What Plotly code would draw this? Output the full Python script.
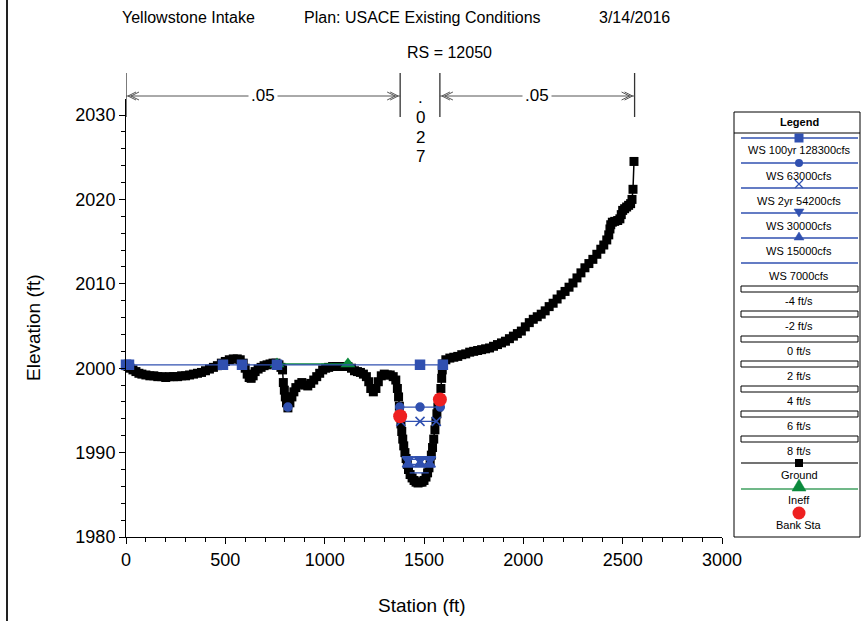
import plotly.graph_objects as go

# ---------------- data ----------------
title_parts = ["Yellowstone Intake", "Plan: USACE Existing Conditions", "3/14/2016"]
subtitle = "RS = 12050"
x_title = "Station (ft)"
y_title = "Elevation (ft)"

ground_sta = [0, 10, 20, 35, 50, 65, 80, 100, 120, 140, 160, 180, 200, 220, 240, 260, 280, 300,
              320, 340, 360, 380, 400, 420, 440, 460, 480, 500, 520, 540, 560, 575, 590, 600,
              610, 620, 630, 640, 650, 665, 680, 695, 710, 725, 740, 755, 770, 780,
              788, 792, 797, 802, 808, 815,
              825, 835, 845, 855, 870, 885, 900, 915, 930, 945, 960, 975, 990, 1005, 1020,
              1040, 1060, 1080, 1100, 1117, 1135, 1150, 1165, 1180, 1195, 1210, 1222, 1232,
              1245, 1258, 1270, 1285, 1300, 1315, 1330, 1345, 1358, 1366, 1372, 1376, 1380,
              1384, 1388, 1393, 1398, 1404, 1410, 1416, 1422, 1430, 1440, 1450, 1460, 1470,
              1480, 1490, 1500, 1510, 1518, 1525, 1531, 1537, 1543, 1549, 1555, 1560, 1565,
              1570, 1575, 1580, 1585, 1589, 1592, 1595,
              1610, 1630, 1650, 1670, 1690, 1710, 1730, 1750, 1770, 1790, 1810, 1830, 1850,
              1870, 1890, 1910, 1930, 1950, 1970, 1990, 2010, 2030, 2050, 2070, 2090, 2110,
              2130, 2150, 2170, 2190, 2210, 2230, 2250, 2270, 2290, 2310, 2330, 2350, 2370,
              2390, 2405, 2420, 2430, 2436, 2440, 2448, 2460, 2475, 2486, 2493, 2500, 2510,
              2520, 2530, 2540, 2547, 2552, 2557]
ground_elev = [2000.3, 2000.2, 2000.0, 1999.8, 1999.6, 1999.4, 1999.3, 1999.2, 1999.1, 1999.1,
               1999.0, 1999.0, 1998.9, 1999.0, 1999.0, 1999.0, 1999.1, 1999.1, 1999.2, 1999.3,
               1999.4, 1999.5, 1999.7, 1999.9, 2000.1, 2000.3, 2000.6, 2000.8, 2001.0, 2001.1,
               2001.1, 2001.0, 2000.6, 2000.0, 1999.3, 1998.9, 1998.8, 1999.1, 1999.6, 1999.9,
               2000.1, 2000.3, 2000.4, 2000.5, 2000.6, 2000.6, 2000.4, 2000.1,
               1999.8, 1998.3, 1997.4, 1996.6, 1995.9, 1995.3,
               1995.9, 1996.6, 1997.2, 1997.7, 1998.1, 1998.3, 1998.0, 1997.9, 1998.2, 1998.6,
               1999.0, 1999.4, 1999.8, 2000.0, 2000.1, 2000.2, 2000.2, 2000.2, 2000.2, 2000.2,
               2000.0, 1999.7, 1999.6, 1999.5, 1999.3, 1999.0, 1998.4, 1997.6, 1997.2, 1997.6,
               1998.4, 1999.1, 1999.3, 1999.2, 1999.2, 1999.0, 1998.6, 1997.6, 1996.6, 1995.5,
               1994.4, 1993.4, 1992.5, 1991.6, 1990.8, 1990.0, 1989.3, 1988.6, 1988.0, 1987.4,
               1987.0, 1986.7, 1986.5, 1986.4, 1986.5, 1986.5, 1986.7, 1987.1, 1987.6, 1988.2,
               1988.9, 1989.7, 1990.6, 1991.6, 1992.7, 1993.7, 1994.6, 1995.4, 1996.0, 1996.4,
               1997.6, 1998.8, 1999.8, 2000.5,
               2001.0, 2001.2, 2001.3, 2001.4, 2001.6, 2001.7, 2001.9, 2002.0, 2002.1, 2002.2,
               2002.3, 2002.4, 2002.6, 2002.8, 2003.0, 2003.2, 2003.5, 2003.8, 2004.1, 2004.4,
               2004.9, 2005.4, 2005.8, 2006.1, 2006.4, 2006.8, 2007.3, 2007.7, 2008.2, 2008.7,
               2009.1, 2009.6, 2010.1, 2010.7, 2011.3, 2011.9, 2012.4, 2012.9, 2013.5, 2014.1,
               2014.6, 2015.2, 2015.8, 2016.5, 2017.0, 2017.3, 2017.4, 2017.5, 2017.7, 2018.2,
               2018.7, 2018.9, 2019.1, 2019.3, 2019.5, 2020.0, 2021.2, 2024.5]

ws_names = ["WS 100yr 128300cfs", "WS 63000cfs", "WS 2yr 54200cfs",
            "WS 30000cfs", "WS 15000cfs", "WS 7000cfs"]
ws100_sta = [0, 15, 488, 584, 760, 1480, 1595]
ws100_elev = [2000.4, 2000.4, 2000.4, 2000.4, 2000.4, 2000.4, 2000.4]
ws63_sta = [1378, 1480, 1582]
ws63_elev = [1995.4, 1995.4, 1995.4]
ws63_pocket_sta = [815]
ws63_pocket_elev = [1995.4]
ws2yr_sta = [1383, 1480, 1562]
ws2yr_elev = [1993.7, 1993.7, 1993.7]
ws30_sta = [1419, 1480, 1530]
ws30_elev = [1989.2, 1989.2, 1989.2]
ws15_sta = [1420, 1480, 1528]
ws15_elev = [1988.6, 1988.6, 1988.6]
ws7_sta = [1428, 1524]
ws7_elev = [1987.6, 1987.6]

ineff_sta = [760, 1117]
ineff_elev = [2000.5, 2000.5]
bank_sta = [1380, 1580]
bank_elev = [1994.3, 1996.3]

n_break_sta = [0, 1380, 1580, 2560]
n_values = [".05", ".027", ".05"]

vel_labels = ["-4 ft/s", "-2 ft/s", "0 ft/s", "2 ft/s", "4 ft/s", "6 ft/s", "8 ft/s"]
x_ticks = [0, 500, 1000, 1500, 2000, 2500, 3000]
y_ticks = [1980, 1990, 2000, 2010, 2020, 2030]

# ---------------- styling / geometry ----------------
FONT = "Liberation Sans, Arial, sans-serif"
BLUE = "#3050B0"
GREEN = "#0A8A3C"
RED = "#EE2020"
W, H = 862, 621
L, R, T, B = 126, 140, 99, 84
PW = W - L - R
PH = H - T - B


def fx(px):
    return (px - L) / PW


def fy(py):
    return (H - B - py) / PH


def s2px(s):
    return L + s * PW / 3000.0


def ann(x, y, text, size, xref="paper", yref="paper", **kw):
    d = dict(x=x, y=y, xref=xref, yref=yref, text=text, showarrow=False,
             xanchor="center", yanchor="middle",
             font=dict(family=FONT, size=size, color="black"))
    d.update(kw)
    return d


fig = go.Figure()

fig.add_trace(go.Scatter(x=ground_sta, y=ground_elev, mode="lines+markers",
                         line=dict(color="black", width=1.5),
                         marker=dict(symbol="square", size=9, color="black"),
                         cliponaxis=False, showlegend=False))
fig.add_trace(go.Scatter(x=ineff_sta, y=ineff_elev, mode="lines+markers",
                         line=dict(color=GREEN, width=1.5),
                         marker=dict(symbol="triangle-up", size=13, color=GREEN),
                         showlegend=False))
ws_sets = [(ws100_sta, ws100_elev, "square", 9),
           (ws63_sta, ws63_elev, "circle", 8),
           (ws63_pocket_sta, ws63_pocket_elev, "circle", 8),
           (ws2yr_sta, ws2yr_elev, "x-thin-open", 9),
           (ws30_sta, ws30_elev, "triangle-down", 10),
           (ws15_sta, ws15_elev, "triangle-up", 10)]
for xs, ys, sym, sz in ws_sets:
    fig.add_trace(go.Scatter(x=xs, y=ys, mode="lines+markers",
                             line=dict(color=BLUE, width=1.3),
                             marker=dict(symbol=sym, size=sz, color=BLUE,
                                         line=dict(color=BLUE, width=1.5)),
                             cliponaxis=False, showlegend=False))
fig.add_trace(go.Scatter(x=ws7_sta, y=ws7_elev, mode="lines",
                         line=dict(color=BLUE, width=1.3), showlegend=False))
fig.add_trace(go.Scatter(x=bank_sta, y=bank_elev, mode="markers",
                         marker=dict(symbol="circle", size=14, color=RED),
                         showlegend=False))

shapes = []
annotations = []

# left frame line
shapes.append(dict(type="line", xref="paper", yref="paper", x0=fx(7), x1=fx(7),
                   y0=fy(0), y1=fy(H), line=dict(color="#222222", width=2)))

# Manning's n brackets
GRAY = "#555555"
for s in n_break_sta:
    shapes.append(dict(type="line", xref="x", yref="paper", x0=s, x1=s,
                       y0=fy(73), y1=fy(117), line=dict(color="#333333", width=1.3)))

for i, val in enumerate(n_values):
    s0, s1 = n_break_sta[i], n_break_sta[i + 1]
    mid = (s0 + s1) / 2
    if len(val) <= 3:
        shapes.append(dict(type="line", xref="x", yref="paper", x0=s0, x1=s1,
                           y0=fy(96), y1=fy(96), line=dict(color=GRAY, width=1)))
        p0, p1 = s2px(s0), s2px(s1)
        for off in (2, 5):
            shapes.append(dict(type="path", xref="paper", yref="paper",
                               path=f"M {fx(p0 + off + 8)} {fy(92)} L {fx(p0 + off)} {fy(96)} L {fx(p0 + off + 8)} {fy(100)}",
                               line=dict(color=GRAY, width=1)))
            shapes.append(dict(type="path", xref="paper", yref="paper",
                               path=f"M {fx(p1 - off - 8)} {fy(92)} L {fx(p1 - off)} {fy(96)} L {fx(p1 - off - 8)} {fy(100)}",
                               line=dict(color=GRAY, width=1)))
        annotations.append(ann(mid, fy(96), val, 17, xref="x", bgcolor="white", borderpad=2))
    else:
        for j, ch in enumerate(val):
            annotations.append(ann(mid, fy(98 + j * 19.5), ch, 17, xref="x"))

# titles
title_left = [120, 302, 597]
for txt, lx in zip(title_parts, title_left):
    annotations.append(ann(fx(lx), fy(18), txt, 16, xanchor="left"))
annotations.append(ann(fx(449), fy(53), subtitle, 16))
annotations.append(ann(fx(422), fy(605), x_title, 19))
annotations.append(ann(fx(33), fy(328), y_title, 19, textangle=-90))

# ---------------- legend (drawn) ----------------
LX0, LX1 = 734, 860
LCX = 799
shapes.append(dict(type="rect", xref="paper", yref="paper", x0=fx(LX0), x1=fx(LX1),
                   y0=fy(537), y1=fy(112), line=dict(color="black", width=1),
                   fillcolor="white", layer="below"))
shapes.append(dict(type="line", xref="paper", yref="paper", x0=fx(LX0), x1=fx(LX1),
                   y0=fy(133), y1=fy(133), line=dict(color="black", width=1)))
annotations.append(ann(fx(LCX), fy(122.5), "<b>Legend</b>", 11))

ws_line_y = [138, 163, 188, 213, 238, 263]
for k, (name, ly) in enumerate(zip(ws_names, ws_line_y)):
    shapes.append(dict(type="line", xref="paper", yref="paper", x0=fx(741), x1=fx(858),
                       y0=fy(ly), y1=fy(ly), line=dict(color=BLUE, width=1.5)))
    annotations.append(ann(fx(LCX), fy(ly + 12.5), name, 11))
    if k == 0:
        shapes.append(dict(type="rect", xref="paper", yref="paper", x0=fx(LCX - 4.5), x1=fx(LCX + 4.5),
                           y0=fy(ly + 4.5), y1=fy(ly - 4.5), fillcolor=BLUE, line=dict(width=0)))
    elif k == 1:
        shapes.append(dict(type="circle", xref="paper", yref="paper", x0=fx(LCX - 4), x1=fx(LCX + 4),
                           y0=fy(ly + 4), y1=fy(ly - 4), fillcolor=BLUE, line=dict(width=0)))
    elif k == 2:
        shapes.append(dict(type="path", xref="paper", yref="paper",
                           path=f"M {fx(LCX - 4)} {fy(ly - 8)} L {fx(LCX + 4)} {fy(ly)} M {fx(LCX + 4)} {fy(ly - 8)} L {fx(LCX - 4)} {fy(ly)}",
                           line=dict(color=BLUE, width=1.2)))
    elif k == 3:
        shapes.append(dict(type="path", xref="paper", yref="paper",
                           path=f"M {fx(LCX - 5)} {fy(ly - 4)} L {fx(LCX + 5)} {fy(ly - 4)} L {fx(LCX)} {fy(ly + 4)} Z",
                           fillcolor=BLUE, line=dict(color=BLUE, width=0.5)))
    elif k == 4:
        shapes.append(dict(type="path", xref="paper", yref="paper",
                           path=f"M {fx(LCX - 5)} {fy(ly + 2)} L {fx(LCX + 5)} {fy(ly + 2)} L {fx(LCX)} {fy(ly - 6)} Z",
                           fillcolor=BLUE, line=dict(color=BLUE, width=0.5)))

vel_rect_top = [286, 311, 336, 361, 386, 411, 436]
for lab, ry in zip(vel_labels, vel_rect_top):
    shapes.append(dict(type="rect", xref="paper", yref="paper", x0=fx(741), x1=fx(858),
                       y0=fy(ry + 6), y1=fy(ry), line=dict(color="black", width=1),
                       fillcolor="white"))
    annotations.append(ann(fx(LCX), fy(ry + 14.5), lab, 11))

# Ground
shapes.append(dict(type="line", xref="paper", yref="paper", x0=fx(741), x1=fx(858),
                   y0=fy(463), y1=fy(463), line=dict(color="#444444", width=1.5)))
shapes.append(dict(type="rect", xref="paper", yref="paper", x0=fx(LCX - 4), x1=fx(LCX + 4),
                   y0=fy(467), y1=fy(459), fillcolor="black", line=dict(width=0)))
annotations.append(ann(fx(LCX), fy(475), "Ground", 11))
# Ineff
shapes.append(dict(type="line", xref="paper", yref="paper", x0=fx(741), x1=fx(858),
                   y0=fy(489), y1=fy(489), line=dict(color="#40A060", width=1.5)))
shapes.append(dict(type="path", xref="paper", yref="paper",
                   path=f"M {fx(LCX - 7)} {fy(491)} L {fx(LCX + 7)} {fy(491)} L {fx(LCX)} {fy(479)} Z",
                   fillcolor=GREEN, line=dict(color=GREEN, width=0.5)))
annotations.append(ann(fx(LCX), fy(499.5), "Ineff", 11))
# Bank Sta
shapes.append(dict(type="circle", xref="paper", yref="paper", x0=fx(LCX - 6.5), x1=fx(LCX + 6.5),
                   y0=fy(519.5), y1=fy(506.5), fillcolor=RED, line=dict(width=0)))
annotations.append(ann(fx(LCX), fy(525), "Bank Sta", 11))

axis_common = dict(showgrid=False, zeroline=False, showline=True, linecolor="black",
                   linewidth=1, ticks="outside", ticklen=6, tickcolor="black",
                   tickfont=dict(family=FONT, size=18, color="black"))
fig.update_layout(
    width=W, height=H,
    margin=dict(l=L, r=R, t=T, b=B, pad=0),
    paper_bgcolor="white", plot_bgcolor="white",
    showlegend=False,
    xaxis=dict(range=[0, 3000], tickvals=x_ticks, automargin=False,
               minor=dict(dtick=100, ticks="outside", ticklen=4, tickcolor="black"),
               **axis_common),
    yaxis=dict(range=[1980, 2031.9], tickvals=y_ticks, automargin=False,
               minor=dict(dtick=2, ticks="outside", ticklen=4, tickcolor="black"),
               **axis_common),
    shapes=shapes,
    annotations=annotations,
)

fig.write_html("out.html", config={"displayModeBar": False},
               post_script="document.body.style.margin='0';")
